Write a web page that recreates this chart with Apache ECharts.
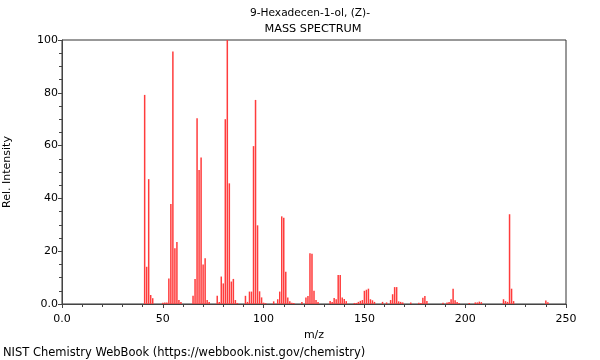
<!DOCTYPE html>
<html><head><meta charset="utf-8">
<script src="https://cdn.jsdelivr.net/npm/echarts@6/dist/echarts.min.js"></script>
<style>html,body{margin:0;padding:0;background:#fff}#c{width:600px;height:360px}</style>
</head><body><div id="c"></div>
<script>
const titleLines = ["9-Hexadecen-1-ol, (Z)-", "MASS SPECTRUM"];
const xTicks = [0, 50, 100, 150, 200, 250];
const yTicks = [0, 20, 40, 60, 80, 100];
const mz = [41,42,43,44,45,50,51,52,53,54,55,56,57,58,59,
  65,66,67,68,69,70,71,72,73,77,78,79,80,81,82,83,84,85,86,87,
  91,92,93,94,95,96,97,98,99,100,101,105,107,108,109,110,111,112,113,114,115,
  119,121,122,123,124,125,126,127,133,134,135,136,137,138,139,140,141,
  145,146,147,148,149,150,151,152,153,154,155,159,161,163,164,165,166,167,168,169,
  173,177,178,179,180,181,189,191,192,193,194,195,196,197,202,205,206,207,208,
  219,220,221,222,223,224,240,241];
const intensity = [79.2,14.1,47.3,3.4,2.2,0.5,0.6,0.6,9.7,37.9,95.6,21.1,23.5,1.5,0.8,
  3.1,9.5,70.4,50.8,55.5,15.0,17.3,1.5,0.8,3.1,0.8,10.4,7.8,70.0,100,45.7,8.5,9.5,1.5,0.4,
  3.1,0.8,4.7,4.7,59.8,77.3,29.8,4.8,2.5,0.5,0.3,1.0,1.8,4.7,33.2,32.7,12.2,2.5,1.0,0.5,0.4,
  0.8,2.5,3.0,19.2,19.0,5.0,1.5,0.8,1.1,0.8,2.3,1.8,11.0,11.0,2.5,1.9,1.1,
  0.4,0.4,0.8,1.2,1.5,5.0,5.4,5.8,1.8,1.4,0.8,0.8,0.6,1.5,3.7,6.4,6.4,1.0,0.8,0.6,
  0.6,0.5,0.4,2.4,3.0,1.1,0.5,0.6,0.8,1.8,5.8,1.4,0.8,0.4,0.4,0.6,0.6,0.9,0.7,
  1.8,1.1,0.8,34.0,5.8,1.1,1.3,0.7];

const chart = echarts.init(document.getElementById('c'), null, {renderer: 'canvas'});
const font = 'DejaVu Sans';
const fmt = v => (v === 0 ? '0.0' : String(v));
const axisColor = '#444';
chart.setOption({
  animation: false,
  backgroundColor: '#fff',
  textStyle: {fontFamily: font},
  title: [
    {text: titleLines[0], left: 310, top: 8, textAlign: 'center', padding: 0,
     textStyle: {fontFamily: font, fontSize: 10.6, fontWeight: 'normal', color: '#000'}},
    {text: titleLines[1], left: 313, top: 24, textAlign: 'center', padding: 0,
     textStyle: {fontFamily: font, fontSize: 11.3, fontWeight: 'normal', color: '#000'}},
    {text: 'NIST Chemistry WebBook (https://webbook.nist.gov/chemistry)', left: 3, top: 347, padding: 0,
     textStyle: {fontFamily: font, fontSize: 11.5, fontWeight: 'normal', color: '#000'}}
  ],
  grid: {left: 62, right: 34, top: 40, bottom: 56, outerBoundsMode: 'none', containLabel: false,
         show: true, borderColor: '#333', borderWidth: 1},
  xAxis: {
    type: 'value', min: xTicks[0], max: xTicks[xTicks.length - 1], interval: 50,
    name: 'm/z', nameLocation: 'middle', nameGap: 26,
    nameTextStyle: {fontFamily: font, fontSize: 11, color: '#000'},
    axisLine: {show: true, lineStyle: {color: axisColor}},
    axisTick: {show: true, length: 4, lineStyle: {color: axisColor}},
    minorTick: {show: true, splitNumber: 5, length: 3, lineStyle: {color: axisColor}},
    splitLine: {show: false},
    axisLabel: {formatter: fmt, fontFamily: font, fontSize: 11, color: '#000', margin: 10}
  },
  yAxis: {
    type: 'value', min: yTicks[0], max: yTicks[yTicks.length - 1], interval: 20,
    name: 'Rel. Intensity', nameLocation: 'middle', nameGap: 49, nameRotate: 90,
    nameTextStyle: {fontFamily: font, fontSize: 11, color: '#000'},
    axisLine: {show: true, lineStyle: {color: axisColor}},
    axisTick: {show: true, length: 4, lineStyle: {color: axisColor}},
    minorTick: {show: true, splitNumber: 4, length: 3, lineStyle: {color: axisColor}},
    splitLine: {show: false},
    axisLabel: {formatter: fmt, fontFamily: font, fontSize: 11, color: '#000', margin: 4}
  },
  series: [{
    type: 'bar',
    data: mz.map((m, i) => [m, intensity[i]]),
    barWidth: 1.5,
    itemStyle: {color: '#ff3c3c'},
    silent: true
  }]
});
</script></body></html>
